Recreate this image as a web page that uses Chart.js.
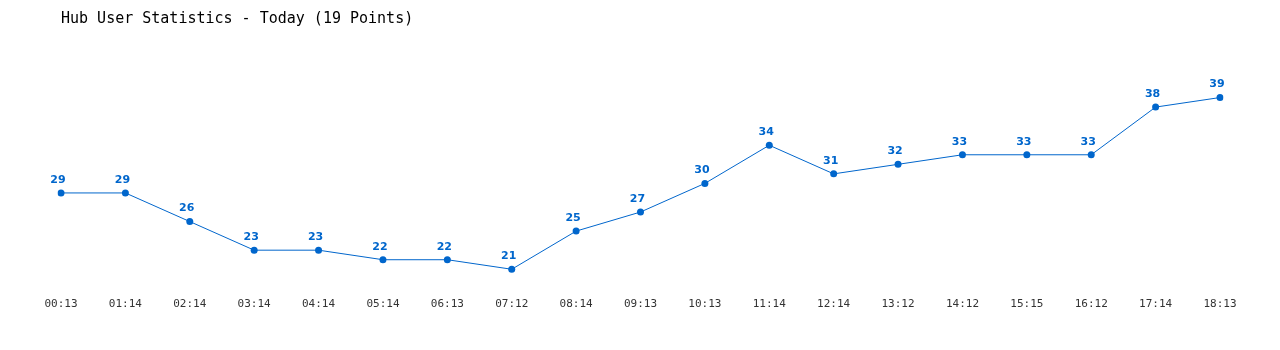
<!DOCTYPE html>
<html>
<head>
<meta charset="utf-8">
<title>Hub User Statistics</title>
<script src="https://cdn.jsdelivr.net/npm/chart.js@4.4.0/dist/chart.umd.min.js"></script>
<style>
    html, body { margin: 0; padding: 0; background: #fff; }
    #wrap { width: 1280px; height: 350px; }
</style>
</head>
<body>
<div id="wrap"><canvas id="hubChart"></canvas></div>
<script>
// Hub user counts, one sample per hour
const timeLabels = ['00:13', '01:14', '02:14', '03:14', '04:14', '05:14', '06:13', '07:12', '08:14', '09:13',
    '10:13', '11:14', '12:14', '13:12', '14:12', '15:15', '16:12', '17:14', '18:13'];
const userCounts = [29, 29, 26, 23, 23, 22, 22, 21, 25, 27, 30, 34, 31, 32, 33, 33, 33, 38, 39];

const lineBlue = '#0066cc';

// Draw the value above each point
const pointValues = {
    id: 'pointValues',
    afterDatasetsDraw(chart) {
        const ctx = chart.ctx;
        const meta = chart.getDatasetMeta(0);
        ctx.save();
        ctx.font = 'bold 11px "DejaVu Sans", sans-serif';
        ctx.fillStyle = lineBlue;
        ctx.textAlign = 'center';
        ctx.textBaseline = 'middle';
        meta.data.forEach((pt, i) => {
            ctx.fillText(String(userCounts[i]), pt.x - 3, pt.y - 13);
        });
        ctx.restore();
    }
};

new Chart(document.getElementById('hubChart'), {
    type: 'line',
    data: {
        labels: timeLabels,
        datasets: [{
            data: userCounts,
            borderColor: lineBlue,
            backgroundColor: lineBlue,
            borderWidth: 1,
            pointRadius: 3.5,
            pointHoverRadius: 3.5,
            pointBorderWidth: 0,
            tension: 0
        }]
    },
    plugins: [pointValues],
    options: {
        responsive: true,
        maintainAspectRatio: false,
        animation: false,
        layout: {
            padding: { left: 61, right: 60, top: 0, bottom: 20 }
        },
        plugins: {
            legend: { display: false },
            tooltip: { enabled: false },
            title: {
                display: true,
                text: 'Hub User Statistics - Today (19 Points)',
                align: 'start',
                color: '#000',
                font: { family: '"DejaVu Sans Mono", monospace', size: 15, weight: 'normal', lineHeight: 1.2 },
                padding: { top: 10, bottom: 60 }
            }
        },
        scales: {
            x: {
                offset: false,
                grid: { display: false, drawTicks: false },
                border: { display: false },
                ticks: {
                    autoSkip: false,
                    maxRotation: 0,
                    padding: 19,
                    color: '#333',
                    font: { family: '"DejaVu Sans Mono", monospace', size: 11 }
                }
            },
            y: {
                display: false,
                min: 20,
                max: 40
            }
        }
    }
});
</script>
</body>
</html>
